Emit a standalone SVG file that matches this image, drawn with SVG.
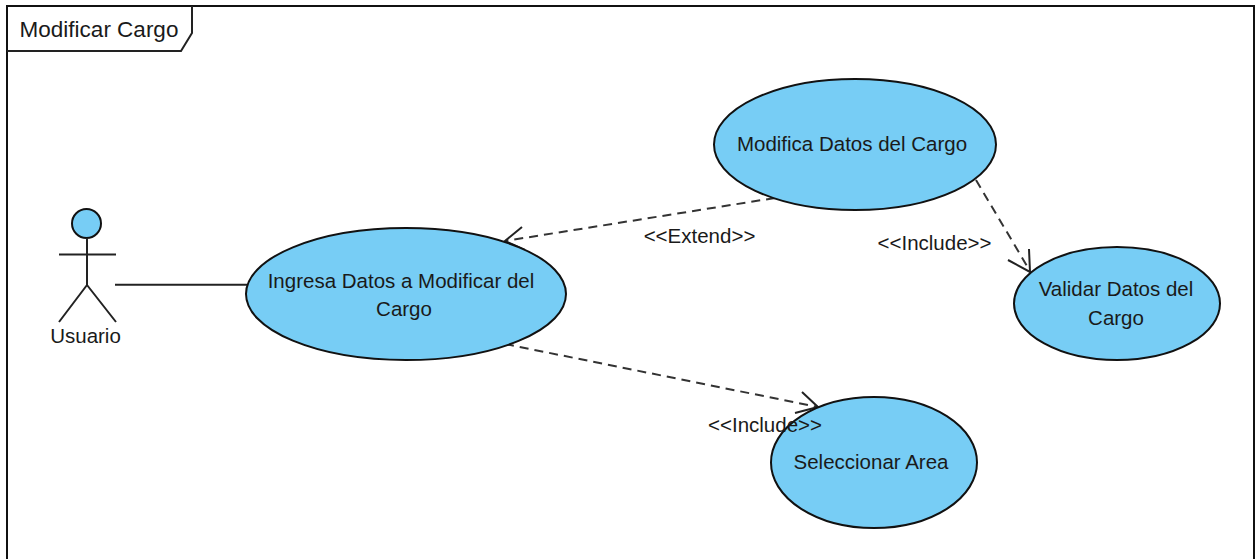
<svg xmlns="http://www.w3.org/2000/svg" width="1256" height="559" viewBox="0 0 1256 559">
<style>
text{font-family:"Liberation Sans",Arial,sans-serif;font-size:20.500px;fill:#1a1a1a;text-anchor:middle}
.uc{fill:#77cdf5;stroke:#111;stroke-width:2}
.ln{fill:none;stroke:#222;stroke-width:2}
.dash{fill:none;stroke:#333;stroke-width:2;stroke-dasharray:9 6}
</style>
<rect width="1256" height="559" fill="#fff"/>
<g id="frame">
<path d="M7 559V6H1254V559" fill="none" stroke="#111" stroke-width="2"/>
<path d="M7 51H181L192 33V6" fill="none" stroke="#222" stroke-width="2"/>
<text x="99" y="37" style="font-size:22.500px">Modificar Cargo</text>
</g>
<g id="connectors">
<path class="ln" d="M115 284.700H247"/>
<path class="dash" d="M775 198L505 241"/>
<path class="ln" d="M522 227L505 241L525 250"/>
<text x="699.500" y="243">&lt;&lt;Extend&gt;&gt;</text>
<path class="dash" d="M976 180L1030 271"/>
<path class="ln" d="M1008 260L1030 272L1029 249"/>
<text x="934.500" y="250">&lt;&lt;Include&gt;&gt;</text>
<path class="dash" d="M505 344L818 407"/>
<path class="ln" d="M802 392L818 407L795 413"/>
</g>
<g id="usuario">
<circle cx="86.500" cy="223.500" r="14.500" class="uc"/>
<path class="ln" d="M87 238V285M59 254.500H116M87 285L59 322M87 285L116 322"/>
<text x="85.500" y="343">Usuario</text>
</g>
<g id="ingresa">
<ellipse cx="406" cy="294" rx="160" ry="66" class="uc"/>
<text x="401" y="288">Ingresa Datos a Modificar del</text>
<text x="404" y="316">Cargo</text>
</g>
<g id="modifica">
<ellipse cx="855" cy="144.500" rx="141" ry="65.500" class="uc"/>
<text x="852" y="151">Modifica Datos del Cargo</text>
</g>
<g id="validar">
<ellipse cx="1117" cy="303.500" rx="103" ry="56.500" class="uc"/>
<text x="1116" y="296">Validar Datos del</text>
<text x="1116" y="325">Cargo</text>
</g>
<g id="seleccionar">
<ellipse cx="874" cy="462.500" rx="103" ry="65.500" class="uc"/>
<text x="871" y="469">Seleccionar Area</text>
</g>
<text id="include-label" x="765" y="432">&lt;&lt;Include&gt;&gt;</text>
</svg>
